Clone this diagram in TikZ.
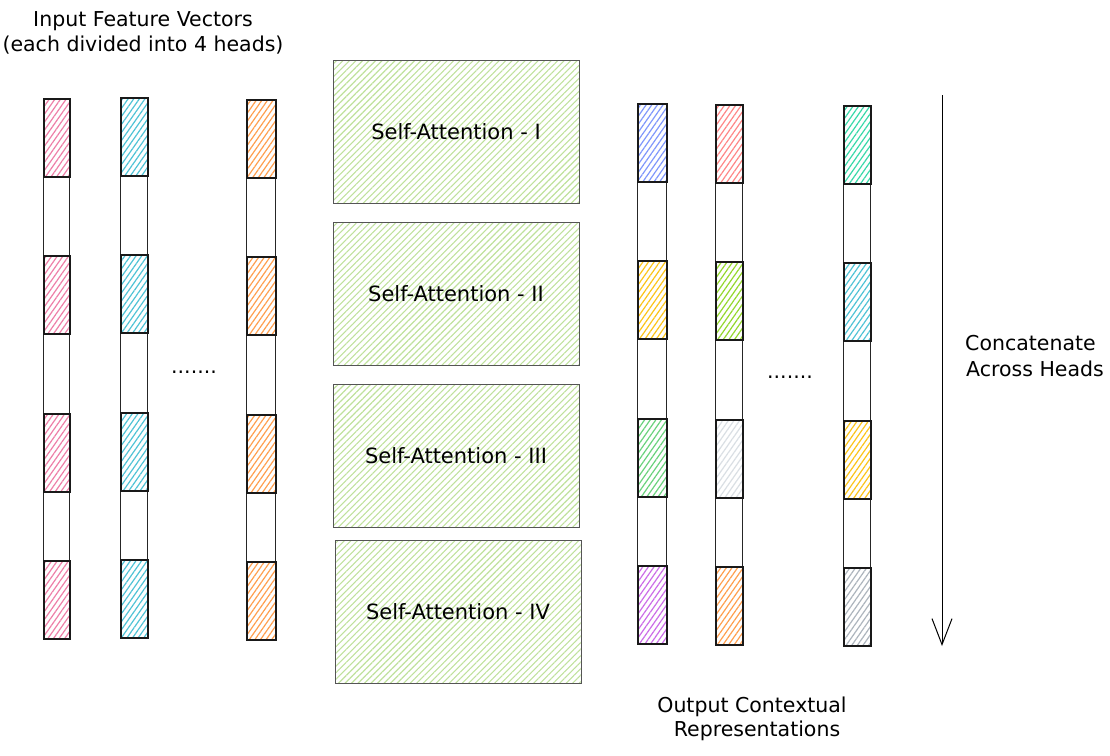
\documentclass[tikz,border=0pt]{standalone}
\usepackage{fontspec}
\setmainfont{DejaVu Sans}
\usetikzlibrary{patterns.meta,arrows.meta}
\definecolor{cPink}{HTML}{EE7FA8}
\definecolor{cCyan}{HTML}{4FC3D6}
\definecolor{cOrange}{HTML}{FF9F4F}
\definecolor{cBlue}{HTML}{7F97FC}
\definecolor{cYellow}{HTML}{FCC419}
\definecolor{cGreen}{HTML}{69D27C}
\definecolor{cPurple}{HTML}{CC6DE8}
\definecolor{cRed}{HTML}{FF8787}
\definecolor{cLime}{HTML}{94D82D}
\definecolor{cLgray}{HTML}{DADFE4}
\definecolor{cTeal}{HTML}{38D9A9}
\definecolor{cGray}{HTML}{ADB5BD}
\definecolor{cBox}{HTML}{BFE19C}
\definecolor{cBoxLine}{HTML}{555555}
\tikzset{
  vecbox/.style={draw=black!85, line width=1.3pt, fill=white, inner sep=0pt, minimum height=540pt},
  segbox/.style={draw=black!90, line width=1.8pt, inner sep=0pt, minimum height=78pt,
     pattern={Lines[angle=55,distance=4.6pt,line width=1.2pt]}},
  sabox/.style={draw=cBoxLine, line width=0.9pt, inner sep=0pt, minimum width=246pt, minimum height=143pt,
     pattern={Lines[angle=45,distance=4.6pt,line width=1.1pt]}, pattern color=cBox, font=\fontsize{21}{25}\selectfont},
  lbl/.style={font=\fontsize{20.5}{24}\selectfont, inner sep=0pt, align=center},
}
\newcommand\vbar[8]{%
  \node[vecbox, minimum width=#4pt, anchor=north west] (#1) at (#2,#3) {};
  \node[segbox, minimum width=#4pt, pattern color=#5, anchor=north west] (#1s1) at (#2,#3) {};
  \node[segbox, minimum width=#4pt, pattern color=#6, anchor=north west] (#1s2) at (#2,#3+157) {};
  \node[segbox, minimum width=#4pt, pattern color=#7, anchor=north west] (#1s3) at (#2,#3+315) {};
  \node[segbox, minimum width=#4pt, pattern color=#8, anchor=north west] (#1s4) at (#2,#3+462) {};
}
\begin{document}
\begin{tikzpicture}[x=1pt,y=-1pt]
\useasboundingbox (0,0) rectangle (1110,755);
% titles
\node[lbl] (tin1) at (143,21) {Input Feature Vectors};
\node[lbl] (tin2) at (143,45) {(each divided into 4 heads)};
\node[lbl] (tout1) at (752,707) {Output Contextual};
\node[lbl] (tout2) at (757,731) {Representations};
\node[lbl, anchor=west, align=left] (tcat1) at (965,343) {Concatenate};
\node[lbl, anchor=west, align=left] (tcat2) at (966,369) {Across Heads};
% input vectors
\vbar{in1}{43}{98}{26}{cPink}{cPink}{cPink}{cPink}
\vbar{in2}{120}{97}{27}{cCyan}{cCyan}{cCyan}{cCyan}
\vbar{in3}{246}{99}{29}{cOrange}{cOrange}{cOrange}{cOrange}
\node[lbl] (dots1) at (194,372) {.......};
% self-attention blocks
\node[sabox] (sa1) at (456,132) {Self-Attention - I};
\node[sabox] (sa2) at (456,294) {Self-Attention - II};
\node[sabox] (sa3) at (456,456) {Self-Attention - III};
\node[sabox] (sa4) at (458,612) {Self-Attention - IV};
% output vectors
\vbar{out1}{637}{103}{29}{cBlue}{cYellow}{cGreen}{cPurple}
\vbar{out2}{715}{104}{27}{cRed}{cLime}{cLgray}{cOrange}
\vbar{out3}{843}{105}{27}{cTeal}{cCyan}{cYellow}{cGray}
\node[lbl] (dots2) at (790,377) {.......};
% concatenate arrow
\coordinate (ctop) at (942,95);
\coordinate (cbot) at (942,646);
\draw[line width=1pt, -{Straight Barb[length=26pt,width=20pt,line width=1pt]}] (ctop) -- (cbot);
\end{tikzpicture}
\end{document}
